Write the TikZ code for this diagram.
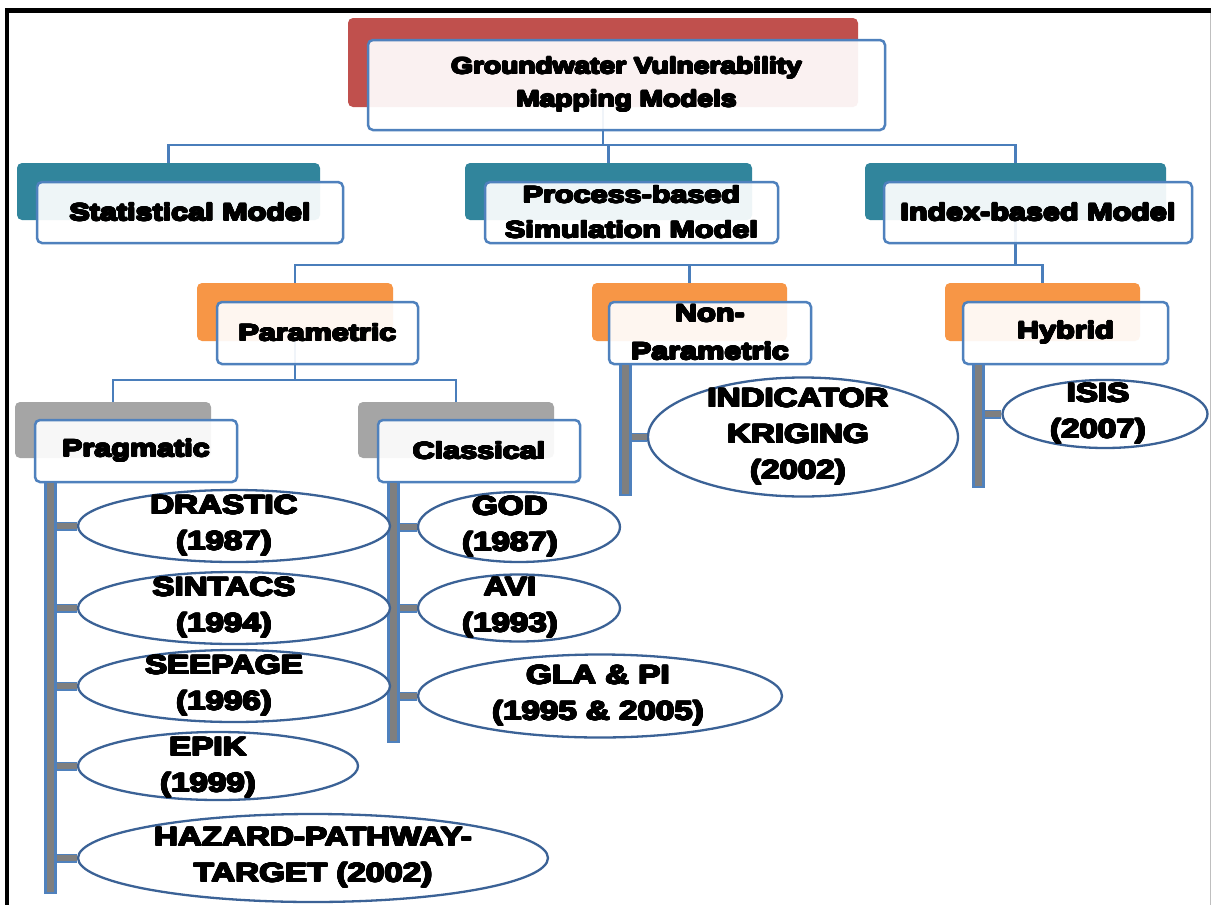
\documentclass[tikz,border=0pt]{standalone}
\usepackage{fontspec}
\usepackage{contour}
\contourlength{0.85pt}
\contournumber{16}
\newfontfamily\blk{Liberation Sans Bold}[FakeStretch=1.25]
\newfontfamily\blkw{Liberation Sans Bold}[FakeStretch=1.3]
\newcommand\hv[1]{\contour{black}{#1}}
\usetikzlibrary{shapes.geometric}
\definecolor{conn}{HTML}{4A7EBB}
\definecolor{bdr}{HTML}{4F81BD}
\definecolor{ell}{HTML}{3B6296}
\definecolor{cred}{HTML}{C0504D}
\definecolor{cteal}{HTML}{31859C}
\definecolor{corange}{HTML}{F79646}
\definecolor{cgrey}{HTML}{A5A5A5}
\definecolor{cbar}{HTML}{7F7F7F}
\begin{document}
\begin{tikzpicture}[x=1pt,y=-1pt,
 back/.style={rectangle, rounded corners=5pt, inner sep=0pt},
 front/.style={rectangle, rounded corners=5pt, draw=bdr, line width=2.5pt, fill=white, fill opacity=0.92, text opacity=1, inner sep=0pt, align=center, font=\blkw\fontsize{23.5}{35}\selectfont},
 oval/.style={ellipse, draw=ell, line width=2.3pt, fill=white, inner sep=0pt},
 etext/.style={align=center, inner sep=0pt, font=\blk\fontsize{26.5}{36}\selectfont},
 conn/.style={draw=conn, line width=2.5pt},
 bar/.style={rectangle, draw=bdr, fill=cbar, line width=2.2pt, inner sep=0pt, minimum width=10pt},
 stub/.style={draw=bdr, line width=1.5pt, double=cbar, double distance=6pt},
]
\useasboundingbox (0,0) rectangle (1211,905);
\fill[white] (0,0) rectangle (1211,905);

% junction coordinates
\coordinate (j1) at (603,145);
\coordinate (j2) at (1015,265);
\coordinate (j3) at (295,380);

% back boxes
\node[back, fill=cred, minimum width=510pt, minimum height=89pt] (topbk) at (603,62.5) {};
\node[back, fill=cteal, minimum width=303pt, minimum height=57pt] (statbk) at (168.5,191.5) {};
\node[back, fill=cteal, minimum width=287pt, minimum height=57pt] (procbk) at (608.5,191.5) {};
\node[back, fill=cteal, minimum width=301pt, minimum height=57pt] (idxbk) at (1015.5,191.5) {};
\node[back, fill=corange, minimum width=196pt, minimum height=58pt] (parbk) at (295,312) {};
\node[back, fill=corange, minimum width=195pt, minimum height=58pt] (nonbk) at (689.5,312) {};
\node[back, fill=corange, minimum width=195pt, minimum height=58pt] (hybbk) at (1042.5,312) {};
\node[back, fill=cgrey, minimum width=196pt, minimum height=56pt] (prgbk) at (113,430) {};
\node[back, fill=cgrey, minimum width=196pt, minimum height=56pt] (clsbk) at (456,430) {};

% connectors
\draw[conn] (topbk.south) -- (topbk.south |- j1);
\draw[conn] (statbk.north) -- (statbk.north |- j1) -| (idxbk.north);
\draw[conn] (procbk.north) -- (procbk.north |- j1);
\draw[conn] (idxbk.south) -- (idxbk.south |- j2);
\draw[conn] (parbk.north) -- (parbk.north |- j2) -| (hybbk.north);
\draw[conn] (nonbk.north) -- (nonbk.north |- j2);
\draw[conn] (parbk.south) -- (parbk.south |- j3);
\draw[conn] (prgbk.north) -- (prgbk.north |- j3) -| (clsbk.north);

% front boxes
\node[front, minimum width=517pt, minimum height=90pt, font=\blk\fontsize{22.5}{33}\selectfont] (top) at (626.5,85) {\hv{Groundwater Vulnerability}\\\hv{Mapping Models}};
\node[front, minimum width=306pt, minimum height=61pt] (stat) at (190,212.5) {\hv{Statistical Model}};
\node[front, minimum width=293pt, minimum height=61pt] (proc) at (631.5,212.5) {\hv{Process-based}\\\hv{Simulation Model}};
\node[front, minimum width=308pt, minimum height=61pt] (idx) at (1038,212.5) {\hv{Index-based Model}};
\node[front, minimum width=201pt, minimum height=62pt] (par) at (317.5,333) {\hv{Parametric}};
\node[front, minimum width=202pt, minimum height=62pt, font=\blkw\fontsize{23.5}{38}\selectfont] (non) at (710,333) {\hv{Non-}\\\hv{Parametric}};
\node[front, minimum width=205pt, minimum height=62pt] (hyb) at (1065.5,333) {\hv{Hybrid}};
\node[front, minimum width=202pt, minimum height=62pt] (prg) at (136,451) {\hv{Pragmatic}};
\node[front, minimum width=202pt, minimum height=62pt] (cls) at (479,451) {\hv{Classical}};

% bars
\node[bar, minimum height=411pt] (prgbar) at (50.5,687.5) {};
\node[bar, minimum height=260pt] (clsbar) at (393.5,612) {};
\node[bar, minimum height=131pt] (nonbar) at (625.5,429.5) {};
\node[bar, minimum height=123pt] (hybbar) at (978.5,425.5) {};

% ellipses
\node[oval, minimum width=312pt, minimum height=72pt] (e1) at (234,526) {};
\node[oval, minimum width=312pt, minimum height=72pt] (e2) at (234,608) {};
\node[oval, minimum width=312pt, minimum height=72pt] (e3) at (234,686) {};
\node[oval, minimum width=280pt, minimum height=68pt] (e4) at (218,766) {};
\node[oval, minimum width=470pt, minimum height=88pt] (e5) at (313,858) {};
\node[oval, minimum width=202pt, minimum height=70pt] (c1) at (519,527) {};
\node[oval, minimum width=202pt, minimum height=67pt] (c2) at (519,608) {};
\node[oval, minimum width=364pt, minimum height=83pt] (c3) at (600,696) {};
\node[oval, minimum width=310pt, minimum height=119pt] (k1) at (803,437) {};
\node[oval, minimum width=205pt, minimum height=68pt] (h1) at (1105,414) {};

% stubs
\foreach \e in {e1,e2,e3,e4,e5} \draw[stub] (prgbar.east |- \e.west) -- (\e.west);
\foreach \e in {c1,c2,c3} \draw[stub] (clsbar.east |- \e.west) -- (\e.west);
\draw[stub] (nonbar.east |- k1.west) -- (k1.west);
\draw[stub] (hybbar.east |- h1.west) -- (h1.west);

% ellipse texts
\node[etext] (e1t) at (224,526) {\hv{DRASTIC}\\\hv{(1987)}};
\node[etext] (e2t) at (224,608) {\hv{SINTACS}\\\hv{(1994)}};
\node[etext] (e3t) at (224,686) {\hv{SEEPAGE}\\\hv{(1996)}};
\node[etext] (e4t) at (208,768) {\hv{EPIK}\\\hv{(1999)}};
\node[etext] (e5t) at (313,858) {\hv{HAZARD-PATHWAY-}\\\hv{TARGET (2002)}};
\node[etext] (c1t) at (510,527) {\hv{GOD}\\\hv{(1987)}};
\node[etext] (c2t) at (510,608) {\hv{AVI}\\\hv{(1993)}};
\node[etext] (c3t) at (598,696) {\hv{GLA \& PI}\\\hv{(1995 \& 2005)}};
\node[etext] (k1t) at (798,437) {\hv{INDICATOR}\\\hv{KRIGING}\\\hv{(2002)}};
\node[etext] (h1t) at (1098,414) {\hv{ISIS}\\\hv{(2007)}};

% frame
\draw[line width=4.5pt] (7,905) -- (7,10.5) -- (1211,10.5);
\draw[black!25, line width=1pt] (1210.5,13) -- (1210.5,905);
\end{tikzpicture}
\end{document}
